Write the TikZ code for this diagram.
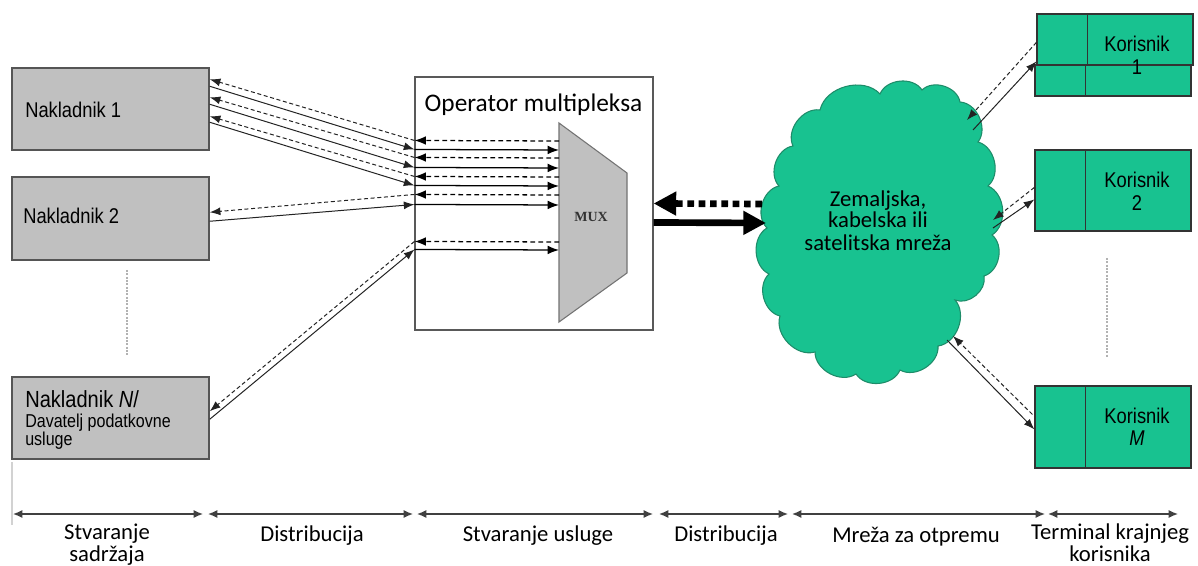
\documentclass[tikz,border=0pt]{standalone}
\usepackage{fontspec}
\setmainfont{Carlito}
\newfontfamily\narrowfont[FakeStretch=0.86]{Liberation Sans}
\newfontfamily\muxfont{Liberation Serif}
\usetikzlibrary{arrows.meta,calc}
\definecolor{boxgray}{RGB}{192,192,192}
\definecolor{edgegray}{RGB}{85,85,85}
\definecolor{tealg}{RGB}{24,194,144}
\definecolor{tealedge}{RGB}{30,140,105}
\definecolor{linec}{RGB}{35,35,35}
\begin{document}
\begin{tikzpicture}[x=0.75pt,y=-0.75pt,
  nbox/.style={draw=edgegray,line width=1.1pt,fill=boxgray,minimum width=147.75pt,minimum height=61.5pt,inner sep=0pt},
  kbox/.style={draw=black!80,line width=0.9pt,fill=tealg,minimum width=117pt,inner sep=0pt},
  ntext/.style={font=\narrowfont\fontsize{16}{18}\selectfont,anchor=base west,inner sep=0pt},
  ktext/.style={font=\narrowfont\fontsize{16}{18}\selectfont,anchor=base,inner sep=0pt},
  btext/.style={font=\fontsize{17}{20}\selectfont,anchor=base,inner sep=0pt},
  ctext/.style={font=\fontsize{17}{20}\selectfont,anchor=base,inner sep=0pt},
  conn/.style={draw=linec,line width=0.75pt,-{Latex[length=8pt,width=6pt]}},
  dconn/.style={conn,dash pattern=on 3pt off 2pt},
  hconn/.style={draw=black,line width=0.95pt,-{Latex[length=8.5pt,width=6.5pt]}},
  hdconn/.style={hconn,dash pattern=on 3.5pt off 2.5pt},
  thick arrow/.style={draw=black,line width=5pt,-{Triangle[length=17pt,width=17pt]}},
  axisarr/.style={draw=black!75,line width=1pt,{Latex[length=7pt,width=6pt]}-{Latex[length=7pt,width=6pt]}},
  sep/.style={draw=gray!60,line width=1pt,dash pattern=on 1.5pt off 1pt},
  lobe/.style={bend left=62}
]
\useasboundingbox (0,0) rectangle (1198,566);

% faint left marker
\draw[gray!35,line width=1pt] (12,462) -- (12,525);

% Nakladnik boxes
\node[nbox] (n1) at (110.5,109) {};
\node[nbox,minimum height=62.25pt] (n2) at (110.5,218.5) {};
\node[nbox] (nN) at (110.5,418) {};
\node[ntext] (t1) at (25,118) {Nakladnik 1};
\node[ntext] (t2) at (23,224) {Nakladnik 2};
\node[ntext,font=\narrowfont\fontsize{17.5}{19}\selectfont] (tN1) at (25,407) {Nakladnik \textit{N}/};
\node[ntext,font=\narrowfont\fontsize{14}{16}\selectfont] (tN2) at (25,427) {Davatelj podatkovne};
\node[ntext,font=\narrowfont\fontsize{14}{16}\selectfont] (tN3) at (25,445) {usluge};
\draw[sep] (127,270) -- (127,355);

% Operator box
\node[draw=black!65,line width=0.8pt,fill=white,minimum width=178.5pt,minimum height=189.75pt,inner sep=0pt] (op) at (534,203.5) {};
\node[font=\fontsize{19}{22}\selectfont,anchor=base,inner sep=0pt] (optitle) at (533.5,112) {Operator multipleksa};
\coordinate (mt) at (559,123);
\draw[fill=boxgray,draw=black!55,line width=0.8pt] (mt) -- (627,173) -- (627,273) -- (559,322) -- cycle;
\node[font=\muxfont\bfseries\fontsize{10.5}{12}\selectfont,text=black!80,anchor=base,inner sep=0pt] (mux) at (591,222) {MUX};

% horizontal arrows in operator box
\foreach \d/\o in {18/64,35/81,54/100,72/118,119/165}
  \draw[hdconn] ($(mt)+(0,\d)$) -- ($(op.north west)+(0,\o)$);
\foreach \d/\o in {27/73,45/91,63/109,82/128,127/173}
  \draw[hconn] ($(op.north west)+(0,\o)$) -- ($(mt)+(0,\d)$);

% diagonals Nakladnik 1
\draw[dconn] ($(op.north west)+(0,64)$) -- ($(n1.north east)+(0,12)$);
\draw[conn] ($(n1.north east)+(0,19)$) -- ($(op.north west)+(0,73)$);
\draw[dconn] ($(op.north west)+(0,81)$) -- ($(n1.north east)+(0,30)$);
\draw[conn] ($(n1.north east)+(0,37)$) -- ($(op.north west)+(0,91)$);
\draw[dconn] ($(op.north west)+(0,100)$) -- ($(n1.north east)+(0,49)$);
\draw[conn] ($(n1.north east)+(0,55)$) -- ($(op.north west)+(0,109)$);
% Nakladnik 2
\draw[dconn] ($(op.north west)+(0,118)$) -- ($(n2.north east)+(0,36)$);
\draw[conn] ($(n2.north east)+(0,45)$) -- ($(op.north west)+(0,128)$);
% Nakladnik N
\draw[dconn] ($(op.north west)+(0,165)$) -- ($(nN.north east)+(0,35)$);
\draw[conn] ($(nN.north east)+(0,43)$) -- ($(op.north west)+(0,173)$);

% cloud
\draw[fill=tealg,draw=tealedge,line width=0.8pt]
  (820,110) to[lobe] (880,94) to[lobe] (922,90) to[lobe] (960,102)
  to[lobe] (978,142) to[lobe] (988,186) to[lobe] (992,235) to[lobe] (984,276)
  to[lobe] (955,300) to[lobe] (938,346) to[lobe] (900,370) to[lobe] (856,374)
  to[lobe] (815,352) to[lobe] (780,316) to[lobe] (769,274) to[lobe] (767,228)
  to[lobe] (779,186) to[lobe] (793,146) to[lobe] cycle;
\node[ctext] (c1) at (878,207) {Zemaljska,};
\node[ctext] (c2) at (878,228) {kabelska ili};
\node[ctext] (c3) at (878,251) {satelitska mreža};

% thick arrows
\coordinate (cdot) at (762,204);
\coordinate (csol) at (766,223);
\draw[thick arrow,dash pattern=on 5pt off 3.5pt] (cdot) -- ($(op.north east)+(0,127)$);
\draw[thick arrow] ($(op.north east)+(0,146)$) -- (csol);

% Korisnik boxes
\node[kbox,minimum height=23.25pt] (k1b) at (1113,80.5) {};
\node[kbox,minimum height=38.25pt] (k1t) at (1115,39.5) {};
\draw[black!80,line width=0.9pt] ($(k1t.north west)+(51,0)$) -- ($(k1t.south west)+(51,0)$);
\draw[black!80,line width=0.9pt] ($(k1b.north west)+(51,0)$) -- ($(k1b.south west)+(51,0)$);
\node[kbox,minimum height=60.75pt] (k2) at (1113,190.5) {};
\draw[black!80,line width=0.9pt] ($(k2.north west)+(51,0)$) -- ($(k2.south west)+(51,0)$);
\node[kbox,minimum height=61.5pt] (km) at (1113,427) {};
\draw[black!80,line width=0.9pt] ($(km.north west)+(51,0)$) -- ($(km.south west)+(51,0)$);
\node[ktext] (k1l1) at (1137,52) {Korisnik};
\node[ktext] (k1l2) at (1137,75) {1};
\node[ktext] (k2l1) at (1137,188) {Korisnik};
\node[ktext] (k2l2) at (1137,211) {2};
\node[ktext] (kml1) at (1137,423) {Korisnik};
\node[ktext] (kml2) at (1137,445) {\textit{M}};
\draw[sep] (1107,258) -- (1107,357);

% Korisnik connectors
\coordinate (c1d) at (967,120);
\coordinate (c1s) at (973,130);
\draw[dconn] ($(k1t.north west)+(0,29)$) -- (c1d);
\draw[conn] (c1s) -- ($(k1t.north west)+(0,48)$);
\coordinate (c2d) at (993,220);
\coordinate (c2s) at (993,228);
\draw[dconn] ($(k2.north west)+(0,38)$) -- (c2d);
\draw[conn] (c2s) -- ($(k2.north west)+(0,50)$);
\coordinate (cmd) at (953,336);
\coordinate (cms) at (947,340);
\draw[dconn] ($(km.north west)+(-2,29)$) -- (cmd);
\draw[conn] (cms) -- ($(km.north west)+(0,44)$);

% bottom axis
\coordinate (a1l) at (13,514);   \coordinate (a1r) at (203,514);
\coordinate (a2l) at (208,514);  \coordinate (a2r) at (413,514);
\coordinate (a3l) at (417,514);  \coordinate (a3r) at (653,514);
\coordinate (a4l) at (659,514);  \coordinate (a4r) at (788,514);
\coordinate (a5l) at (792,514);  \coordinate (a5r) at (1045,514);
\coordinate (a6l) at (1048,514); \coordinate (a6r) at (1178,514);
\draw[axisarr] (a1l) -- (a1r);
\draw[axisarr] (a2l) -- (a2r);
\draw[axisarr] (a3l) -- (a3r);
\draw[axisarr] (a4l) -- (a4r);
\draw[axisarr] (a5l) -- (a5r);
\draw[axisarr] (a6l) -- (a6r);
\node[btext] (b1a) at (107,539.5) {Stvaranje};
\node[btext] (b1b) at (107,561.5) {sadržaja};
\node[btext] (b2) at (312,541) {Distribucija};
\node[btext] (b3) at (538,541) {Stvaranje usluge};
\node[btext] (b4) at (726,541) {Distribucija};
\node[btext] (b5) at (916,542) {Mreža za otpremu};
\node[btext] (b6a) at (1110,539.5) {Terminal krajnjeg};
\node[btext] (b6b) at (1110,561.5) {korisnika};
\end{tikzpicture}
\end{document}
